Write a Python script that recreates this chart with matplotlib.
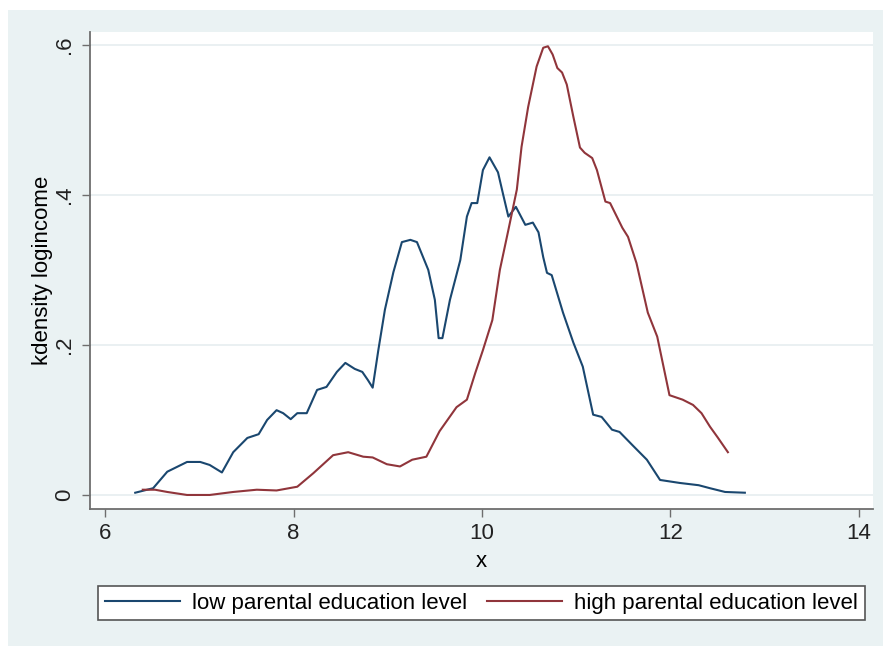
import matplotlib
matplotlib.use('Agg')
import matplotlib.pyplot as plt
from matplotlib.patches import Rectangle

# kdensity of logincome
x_low = [6.32, 6.51, 6.66, 6.87, 7.01, 7.11, 7.24, 7.36, 7.51, 7.63, 7.72, 7.82,
         7.89, 7.97, 8.04, 8.14, 8.25, 8.35, 8.46, 8.55, 8.65, 8.73, 8.79, 8.84,
         8.9, 8.97, 9.06, 9.15, 9.24, 9.31, 9.43, 9.5, 9.54, 9.58, 9.66, 9.77,
         9.84, 9.89, 9.95, 10.01, 10.08, 10.17, 10.22, 10.28, 10.36, 10.46, 10.54,
         10.6, 10.65, 10.69, 10.74, 10.86, 10.97, 11.07, 11.18, 11.27, 11.38,
         11.46, 11.6, 11.75, 11.89, 12.1, 12.3, 12.42, 12.58, 12.79]
y_low = [0.003, 0.009, 0.031, 0.044, 0.044, 0.04, 0.03, 0.057, 0.076, 0.081, 0.1, 0.113,
         0.109, 0.101, 0.109, 0.109, 0.14, 0.144, 0.164, 0.176, 0.168, 0.164, 0.153, 0.143,
         0.193, 0.247, 0.297, 0.337, 0.34, 0.337, 0.3, 0.26, 0.209, 0.209, 0.26, 0.313,
         0.371, 0.389, 0.389, 0.433, 0.45, 0.43, 0.403, 0.371, 0.384, 0.36, 0.363,
         0.35, 0.317, 0.296, 0.293, 0.243, 0.203, 0.171, 0.107, 0.104, 0.087,
         0.084, 0.066, 0.047, 0.02, 0.016, 0.013, 0.009, 0.004, 0.003]

x_high = [6.4, 6.53, 6.66, 6.87, 7.11, 7.36, 7.61, 7.82, 8.04, 8.21, 8.42, 8.58,
          8.74, 8.84, 8.99, 9.13, 9.26, 9.41, 9.55, 9.73, 9.84, 9.93, 10.01, 10.11,
          10.19, 10.28, 10.37, 10.42, 10.49, 10.58, 10.65, 10.7, 10.75, 10.8, 10.85,
          10.9, 10.97, 11.04, 11.09, 11.17, 11.22, 11.31, 11.36, 11.49, 11.55, 11.64,
          11.76, 11.86, 11.99, 12.13, 12.24, 12.33, 12.42, 12.5, 12.61]
y_high = [0.007, 0.007, 0.004, 0.0, 0.0, 0.004, 0.007, 0.006, 0.011, 0.029, 0.053, 0.057,
          0.051, 0.05, 0.041, 0.038, 0.047, 0.051, 0.085, 0.117, 0.127, 0.163, 0.193, 0.233,
          0.3, 0.353, 0.407, 0.464, 0.517, 0.571, 0.596, 0.598, 0.587, 0.569, 0.563,
          0.547, 0.504, 0.463, 0.456, 0.449, 0.433, 0.391, 0.389, 0.356, 0.344, 0.309,
          0.243, 0.211, 0.133, 0.127, 0.12, 0.109, 0.091, 0.077, 0.057]

xticks = [6, 8, 10, 12, 14]
yticks = [0, 0.2, 0.4, 0.6]
ytick_labels = ['0', '.2', '.4', '.6']

plt.rcParams['font.family'] = ['Liberation Sans', 'DejaVu Sans']
plt.rcParams['font.size'] = 16

W, H = 883, 646
fig = plt.figure(figsize=(W / 100, H / 100), dpi=100)
fig.patch.set_facecolor('white')

# stata-like graph region
fig.add_artist(Rectangle((8 / W, 0), 1 - 8 / W, 1 - 10 / H, transform=fig.transFigure,
                         facecolor='#eaf2f3', edgecolor='none', zorder=-10))

ax = fig.add_axes([90 / W, 1 - 509 / H, (873 - 90) / W, (509 - 32) / H])
ax.set_facecolor('white')

ax.plot(x_low, y_low, color='#1a476f', linewidth=1.5, label='low parental education level')
ax.plot(x_high, y_high, color='#90353b', linewidth=1.5, label='high parental education level')

ax.set_xlim(5.84, 14.15)
ax.set_ylim(-0.0187, 0.617)

ax.set_xticks(xticks)
ax.set_yticks(yticks)
ax.set_yticklabels(ytick_labels, rotation=90, va='center')
ax.yaxis.grid(True, color='#e6eef0', linewidth=1.2)
ax.set_axisbelow(True)

for side in ['top', 'right']:
    ax.spines[side].set_visible(False)
for side in ['left', 'bottom']:
    ax.spines[side].set_color('#6e6e6e')
    ax.spines[side].set_linewidth(1.3)

ax.tick_params(axis='both', direction='out', length=6, width=1.0, color='#6e6e6e',
               labelsize=16, labelcolor='#222222')
ax.tick_params(axis='y', pad=5)
ax.tick_params(axis='x', pad=4)

ax.set_xlabel('x', fontsize=16, labelpad=5)
ax.set_ylabel('kdensity logincome', fontsize=16)
ax.yaxis.set_label_coords(-0.047, 0.5)

leg = fig.legend(loc='center', bbox_to_anchor=(98 / W, 1 - 623 / H, 767 / W, 40 / H),
                 mode='expand', ncol=2, fontsize=16, frameon=True, fancybox=False,
                 edgecolor='#555555', framealpha=1, borderaxespad=0, borderpad=0.3,
                 handlelength=3.4, handletextpad=0.55, columnspacing=1.0)
leg.get_frame().set_linewidth(1.2)

fig.savefig('out.png', dpi=100)
